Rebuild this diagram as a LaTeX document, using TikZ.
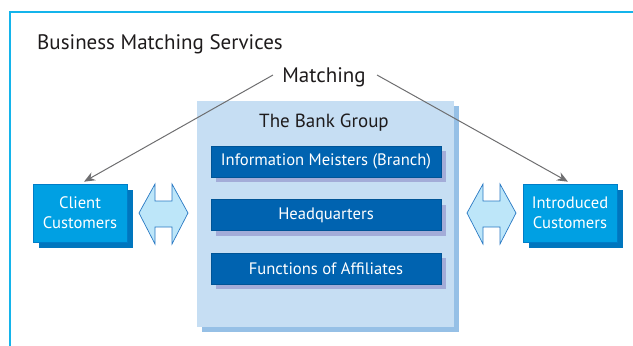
\documentclass[tikz,border=0pt]{standalone}
\usepackage{fontspec}
\setmainfont{PT Sans}
\usetikzlibrary{arrows.meta,shadows}
\definecolor{framecyan}{RGB}{20,180,235}
\definecolor{banklight}{RGB}{198,222,243}
\definecolor{bankshadow}{RGB}{150,192,230}
\definecolor{innerblue}{RGB}{0,99,176}
\definecolor{innershadow}{RGB}{163,172,216}
\definecolor{custfill}{RGB}{0,160,227}
\definecolor{custborder}{RGB}{0,125,200}
\definecolor{custshadow}{RGB}{0,118,190}
\definecolor{hexfill}{RGB}{189,230,249}
\definecolor{hexline}{RGB}{40,120,195}
\definecolor{arrowgray}{RGB}{110,110,112}
\definecolor{textdark}{RGB}{30,27,28}
\tikzset{
  bankbox/.style={fill=banklight, minimum width=257pt, minimum height=226pt, inner sep=0pt,
    drop shadow={shadow xshift=5pt, shadow yshift=-5pt, fill=bankshadow, opacity=1}},
  innerbox/.style={fill=innerblue, draw=innerblue!85!black, line width=0.4pt, minimum width=230pt, minimum height=31pt, inner sep=0pt,
    text=white, font=\fontsize{16.6}{19}\selectfont,
    drop shadow={shadow xshift=5pt, shadow yshift=-5pt, fill=innershadow, opacity=1}},
  custbox/.style={fill=custfill, draw=custborder, line width=0.6pt, minimum width=94pt, minimum height=58pt, inner sep=0pt,
    text=white, align=center, font=\fontsize{16.6}{20}\selectfont,
    drop shadow={shadow xshift=6pt, shadow yshift=-6pt, fill=custshadow, opacity=1}},
  hexarrow/.style={fill=hexfill, draw=hexline, line width=0.7pt, line join=miter},
  matcharrow/.style={draw=arrowgray, line width=1pt, -{Stealth[length=11pt,width=9pt]}},
  framecol/.style={draw=framecyan, line width=1.6pt},
  titletext/.style={text=textdark, font=\fontsize{21}{24}\selectfont, inner sep=0pt},
}
\begin{document}
\begin{tikzpicture}[x=1pt,y=-1pt]
\useasboundingbox (0,0) rectangle (633,346);
% frame
\coordinate (fA) at (10,346);
\coordinate (fB) at (10,12);
\coordinate (fC) at (633,12);
\draw[framecol] (fA) -- (fB) -- (fC);
% title
\node[titletext, anchor=base west] (title) at (37,49) {Business Matching Services};
% bank group
\node[bankbox] (bank) at (325.5,214) {};
\node[titletext, font=\fontsize{19}{22}\selectfont, anchor=base] (banktitle) at (324,127) {The Bank Group};
\node[innerbox] (im) at (326,161.5) {Information Meisters (Branch)};
\node[innerbox] (hq) at (326,215) {Headquarters};
\node[innerbox] (fa) at (326,268.5) {Functions of Affiliates};
% customers
\node[custbox] (client) at (80,213) {Client\\Customers};
\node[custbox] (intro) at (570,213) {Introduced\\Customers};
% hex double arrows
\foreach \dx/\nm in {0/hexL,328/hexR}{
  \begin{scope}[xshift=\dx]
  \draw[hexarrow] (139,213) -- (155,184) -- (155,201) -- (172,201) -- (172,184) -- (188,213)
     -- (172,244) -- (172,227) -- (155,227) -- (155,244) -- cycle;
  \coordinate (\nm) at (163.5,213);
  \end{scope}
}
% matching
\node[titletext, inner xsep=10pt, anchor=base] (match) at (324,82) {Matching};
\coordinate (mL) at (273,75);
\coordinate (mR) at (377,75);
\draw[matcharrow] (mL) -- ([xshift=4pt,yshift=2pt]client.north);
\draw[matcharrow] (mR) -- ([xshift=-2pt,yshift=2pt]intro.north);
\end{tikzpicture}
\end{document}
